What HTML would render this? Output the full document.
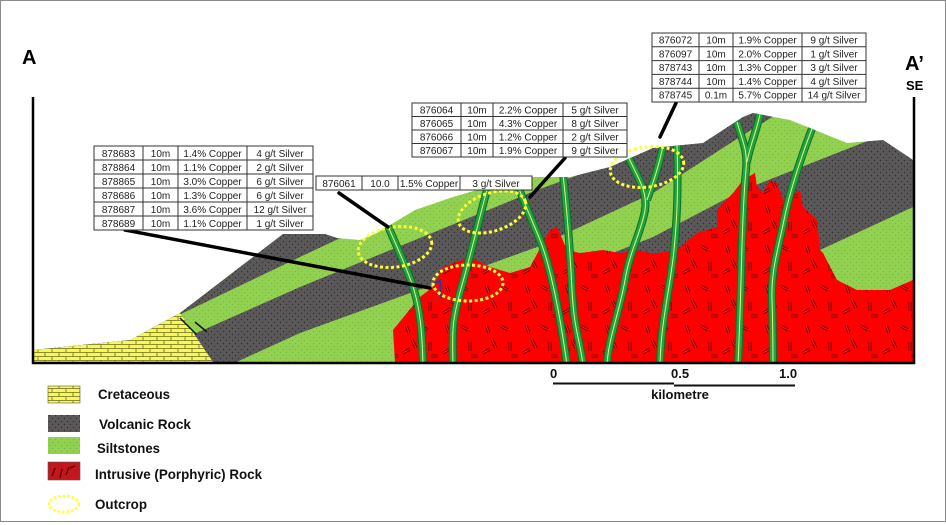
<!DOCTYPE html>
<html><head><meta charset="utf-8"><style>
html,body{margin:0;padding:0;background:#fff}
svg{display:block}
.t{font-family:"Liberation Sans",sans-serif;font-size:10px;fill:#222}
.lg{font-family:"Liberation Sans Narrow","Liberation Sans",sans-serif;font-size:14px;font-weight:bold;fill:#111}
</style></head><body>
<svg width="946" height="525" viewBox="0 0 946 525" xmlns="http://www.w3.org/2000/svg">
<defs>
<pattern id="pg" width="6" height="6" patternUnits="userSpaceOnUse"><rect width="6" height="6" fill="#5a5859"/><circle cx="1.5" cy="1.5" r=".7" fill="#2f2f2f"/><circle cx="4.5" cy="4.5" r=".7" fill="#333"/></pattern>
<pattern id="pv" width="6" height="6" patternUnits="userSpaceOnUse"><rect width="6" height="6" fill="#92d050"/><circle cx="1.5" cy="1.5" r=".5" fill="#6fae3a"/><circle cx="4.5" cy="4.5" r=".5" fill="#6fae3a"/></pattern>
<pattern id="pr" width="40" height="40" patternUnits="userSpaceOnUse"><rect width="40" height="40" fill="#ff0000"/>
<g stroke="#7a0000" stroke-width="3" stroke-linecap="butt">
<path d="M6,5 L9,13 M21,6 L28,10 M12,20 L16,28 M30,22 L30,31 M3,33 L10,29 M31,36 L38,36"/>
</g>
<g stroke="#ff2020" stroke-width="1">
<path d="M6,5 L9,13 M21,6 L28,10 M12,20 L16,28 M30,22 L30,31 M3,33 L10,29 M31,36 L38,36"/>
</g></pattern>
<pattern id="py" width="14" height="8" patternUnits="userSpaceOnUse"><rect width="14" height="8" fill="#f8f850"/><path d="M0 .5H14M0 4.5H14M3 .5V4.5M10 4.5V8.5" stroke="#6a6a30" stroke-width=".8" fill="none"/></pattern>
<clipPath id="terr"><polygon points="33,362 33,350 130,340 180,313 283,234 325,234 337,238 360,240 375,234 395,222 415,210 450,198 470,192 510,180 530,177 570,177 610,167 653,148 703,143 743,117 753,113 790,120 847,143 883,140 913,160 913,362"/></clipPath>
</defs>
<rect x="0.5" y="0.5" width="945" height="521" fill="#fff" stroke="#8a8a8a"/>
<g clip-path="url(#terr)">
<rect x="0" y="0" width="946" height="400" fill="url(#pv)"/>
<polygon fill="url(#pg)" points="0,405 183,313 300,257 400,210 950,-50 950,-100 0,-100"/>
<polygon fill="url(#pg)" points="0,420 300,287 537,190 653,148 760,100 950,10 950,50 800,100 743,135 653,193 537,247 300,333 0,470"/>
<polygon fill="url(#pg)" points="400,338 500,298 653,237 743,190 870,140 950,105 950,190 913,207 820,250 700,305 500,395"/>
<polygon fill="url(#py)" points="33,362 33,350 130,340 180,313 213,362"/>
<line x1="180" y1="318" x2="196" y2="334" stroke="#111" stroke-width="1.5"/>
<line x1="195" y1="322" x2="207" y2="332" stroke="#111" stroke-width="1.5"/>
<polygon fill="url(#pr)" points="395,362 393,330 420,297 433,287 443,267 470,257 490,267 510,273 530,267 550,230 557,227 567,250 580,253 603,250 620,253 637,250 650,253 657,253 677,250 697,233 717,227 717,210 733,193 743,180 755,173 757,187 763,193 770,180 777,183 783,200 800,190 803,207 817,220 820,250 823,253 837,280 857,290 890,290 913,280 913,362"/>
<g fill="none" stroke-linecap="butt" stroke-linejoin="round">
<g stroke="#0d6e25" stroke-width="8">
<path d="M388,226 C398,250 408,270 414,290 S422,330 423,365"/>
<path d="M487,190 C480,215 472,250 462,285 S452,330 453,365"/>
<path d="M518,186 C525,205 532,220 540,240 S558,300 567,365"/>
<path d="M563,174 C567,210 570,250 572,290 S580,340 583,365"/>
<path d="M628,156 C636,175 648,190 645,210 S630,250 625,280 S608,340 607,365"/>
<path d="M663,146 C658,170 652,185 647,200"/>
<path d="M677,144 C678,180 678,210 674,250 S661,320 660,365"/>
<path d="M737,122 C742,140 748,150 746,170 S742,240 741,280 S739,340 738,365"/>
<path d="M760,114 C757,130 750,145 747,162"/>
<path d="M813,126 C800,160 790,190 784,220 S771,270 772,300 S773,340 773,365"/>
</g>
<g stroke="#23a33d" stroke-width="6">
<path d="M388,226 C398,250 408,270 414,290 S422,330 423,365"/>
<path d="M487,190 C480,215 472,250 462,285 S452,330 453,365"/>
<path d="M518,186 C525,205 532,220 540,240 S558,300 567,365"/>
<path d="M563,174 C567,210 570,250 572,290 S580,340 583,365"/>
<path d="M628,156 C636,175 648,190 645,210 S630,250 625,280 S608,340 607,365"/>
<path d="M663,146 C658,170 652,185 647,200"/>
<path d="M677,144 C678,180 678,210 674,250 S661,320 660,365"/>
<path d="M737,122 C742,140 748,150 746,170 S742,240 741,280 S739,340 738,365"/>
<path d="M760,114 C757,130 750,145 747,162"/>
<path d="M813,126 C800,160 790,190 784,220 S771,270 772,300 S773,340 773,365"/>
</g>
<g stroke="#dcf58a" stroke-width="1">
<path d="M388,226 C398,250 408,270 414,290 S422,330 423,365"/>
<path d="M487,190 C480,215 472,250 462,285 S452,330 453,365"/>
<path d="M518,186 C525,205 532,220 540,240 S558,300 567,365"/>
<path d="M563,174 C567,210 570,250 572,290 S580,340 583,365"/>
<path d="M628,156 C636,175 648,190 645,210 S630,250 625,280 S608,340 607,365"/>
<path d="M663,146 C658,170 652,185 647,200"/>
<path d="M677,144 C678,180 678,210 674,250 S661,320 660,365"/>
<path d="M737,122 C742,140 748,150 746,170 S742,240 741,280 S739,340 738,365"/>
<path d="M760,114 C757,130 750,145 747,162"/>
<path d="M813,126 C800,160 790,190 784,220 S771,270 772,300 S773,340 773,365"/>
</g></g>
</g>
<path d="M434,283 L440,281 L441,298" stroke="#2040a0" stroke-width="2" fill="none"/>
<g fill="none" stroke="#ffff33" stroke-width="3" stroke-dasharray="3 2.5">
<ellipse cx="395" cy="247" rx="37" ry="20" transform="rotate(-8 395 247)"/>
<ellipse cx="468" cy="283" rx="35" ry="18"/>
<ellipse cx="492" cy="212" rx="35" ry="19" transform="rotate(-18 492 212)"/>
<ellipse cx="647" cy="167" rx="37" ry="20" transform="rotate(-8 647 167)"/>
</g>
<g stroke="#000" stroke-width="3.5" stroke-linecap="round">
<line x1="125" y1="230" x2="430" y2="288"/>
<line x1="339" y1="193" x2="388" y2="227"/>
<line x1="530" y1="197" x2="565" y2="158"/>
<line x1="660" y1="137" x2="676" y2="103"/>
</g>
<g stroke="#000" stroke-width="2.5" fill="none">
<path d="M33,97 V363 H914 V97"/>
</g>
<text x="22" y="64" font-family="Liberation Sans,sans-serif" font-weight="bold" font-size="20" fill="#000">A</text>
<text x="905" y="70" font-family="Liberation Sans,sans-serif" font-weight="bold" font-size="20" fill="#000">A’</text>
<text x="906" y="90" font-family="Liberation Sans,sans-serif" font-weight="bold" font-size="13" fill="#000">SE</text>
<g>
<rect x="94" y="146" width="219" height="84" fill="#fff" stroke="#333" stroke-width="1"/>
<path d="M143,146V230M178,146V230M247,146V230M94,160H313M94,174H313M94,188H313M94,202H313M94,216H313" stroke="#333" stroke-width="1"/>
<g class="t" text-anchor="middle">
<text x="118.5" y="157">878683</text><text x="160.5" y="157">10m</text><text x="212.5" y="157">1.4% Copper</text><text x="280" y="157">4 g/t Silver</text>
<text x="118.5" y="171">878864</text><text x="160.5" y="171">10m</text><text x="212.5" y="171">1.1% Copper</text><text x="280" y="171">2 g/t Silver</text>
<text x="118.5" y="185">878865</text><text x="160.5" y="185">10m</text><text x="212.5" y="185">3.0% Copper</text><text x="280" y="185">6 g/t Silver</text>
<text x="118.5" y="199">878686</text><text x="160.5" y="199">10m</text><text x="212.5" y="199">1.3% Copper</text><text x="280" y="199">6 g/t Silver</text>
<text x="118.5" y="213">878687</text><text x="160.5" y="213">10m</text><text x="212.5" y="213">3.6% Copper</text><text x="280" y="213">12 g/t Silver</text>
<text x="118.5" y="227">878689</text><text x="160.5" y="227">10m</text><text x="212.5" y="227">1.1% Copper</text><text x="280" y="227">1 g/t Silver</text>
</g></g>
<g>
<rect x="316" y="176" width="216" height="14" fill="#fff" stroke="#333"/>
<path d="M362,176V190M398,176V190M460,176V190" stroke="#333"/>
<g class="t" text-anchor="middle"><text x="339" y="187">876061</text><text x="380" y="187">10.0</text><text x="429" y="187">1.5% Copper</text><text x="496" y="187">3 g/t Silver</text></g>
</g>
<g>
<rect x="412" y="103" width="215" height="54" fill="#fff" stroke="#333"/>
<path d="M461,103V157M493,103V157M563,103V157M412,116.5H627M412,130H627M412,143.5H627" stroke="#333"/>
<g class="t" text-anchor="middle">
<text x="436.5" y="113.5">876064</text><text x="477" y="113.5">10m</text><text x="528" y="113.5">2.2% Copper</text><text x="595" y="113.5">5 g/t Silver</text>
<text x="436.5" y="127">876065</text><text x="477" y="127">10m</text><text x="528" y="127">4.3% Copper</text><text x="595" y="127">8 g/t Silver</text>
<text x="436.5" y="140.5">876066</text><text x="477" y="140.5">10m</text><text x="528" y="140.5">1.2% Copper</text><text x="595" y="140.5">2 g/t Silver</text>
<text x="436.5" y="154">876067</text><text x="477" y="154">10m</text><text x="528" y="154">1.9% Copper</text><text x="595" y="154">9 g/t Silver</text>
</g></g>
<g>
<rect x="652" y="33" width="214" height="69" fill="#fff" stroke="#333"/>
<path d="M699,33V102M733,33V102M802,33V102M652,46.8H866M652,60.6H866M652,74.4H866M652,88.2H866" stroke="#333"/>
<g class="t" text-anchor="middle">
<text x="675.5" y="43.5">876072</text><text x="716" y="43.5">10m</text><text x="767.5" y="43.5">1.9% Copper</text><text x="834" y="43.5">9 g/t Silver</text>
<text x="675.5" y="57.3">876097</text><text x="716" y="57.3">10m</text><text x="767.5" y="57.3">2.0% Copper</text><text x="834" y="57.3">1 g/t Silver</text>
<text x="675.5" y="71.1">878743</text><text x="716" y="71.1">10m</text><text x="767.5" y="71.1">1.3% Copper</text><text x="834" y="71.1">3 g/t Silver</text>
<text x="675.5" y="84.9">878744</text><text x="716" y="84.9">10m</text><text x="767.5" y="84.9">1.4% Copper</text><text x="834" y="84.9">4 g/t Silver</text>
<text x="675.5" y="98.7">878745</text><text x="716" y="98.7">0.1m</text><text x="767.5" y="98.7">5.7% Copper</text><text x="834" y="98.7">14 g/t Silver</text>
</g></g>
<g font-family="Liberation Sans Narrow,Liberation Sans,sans-serif" font-weight="bold" font-size="13" fill="#111">
<text x="550" y="378">0</text><text x="671" y="378">0.5</text><text x="779" y="378">1.0</text>
<text x="680" y="399" text-anchor="middle">kilometre</text>
</g>
<path d="M553,383.5H674M674,385.5H795" stroke="#111" stroke-width="2"/>
<rect x="48" y="386" width="32" height="17" fill="url(#py)" stroke="#555" stroke-width=".6"/>
<rect x="48" y="415" width="32" height="17" fill="url(#pg)"/>
<rect x="48" y="437" width="32" height="17" fill="url(#pv)"/>
<rect x="48" y="462" width="32" height="18" fill="#c4161c" stroke="#555" stroke-width=".6"/>
<path d="M52,476l3,-8M60,478l2,-9M66,475l3,-8M70,468l5,-2" stroke="#5a0000" stroke-width="1.5"/>
<ellipse cx="64" cy="504" rx="15" ry="8" fill="none" stroke="#ffff33" stroke-width="2.5" stroke-dasharray="2.5 2"/>
<text class="lg" x="98" y="399" textLength="72" lengthAdjust="spacingAndGlyphs">Cretaceous</text>
<text class="lg" x="99" y="429" textLength="92" lengthAdjust="spacingAndGlyphs">Volcanic Rock</text>
<text class="lg" x="97" y="453" textLength="63" lengthAdjust="spacingAndGlyphs">Siltstones</text>
<text class="lg" x="95" y="479" textLength="167" lengthAdjust="spacingAndGlyphs">Intrusive (Porphyric) Rock</text>
<text class="lg" x="95" y="509" textLength="52" lengthAdjust="spacingAndGlyphs">Outcrop</text>
</svg>
</body></html>
